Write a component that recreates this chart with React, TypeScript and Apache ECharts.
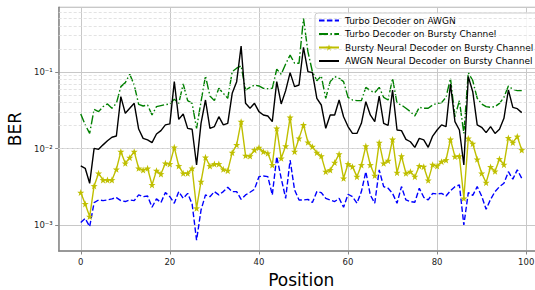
import React, { useEffect, useRef } from "react";
import * as echarts from "echarts";

const positions: number[] = [
  0, 1, 2, 3, 4, 5, 6, 7, 8, 9, 10, 11, 12, 13, 14, 15, 16, 17, 18, 19,
  20, 21, 22, 23, 24, 25, 26, 27, 28, 29, 30, 31, 32, 33, 34, 35, 36, 37, 38, 39,
  40, 41, 42, 43, 44, 45, 46, 47, 48, 49, 50, 51, 52, 53, 54, 55, 56, 57, 58, 59,
  60, 61, 62, 63, 64, 65, 66, 67, 68, 69, 70, 71, 72, 73, 74, 75, 76, 77, 78, 79,
  80, 81, 82, 83, 84, 85, 86, 87, 88, 89, 90, 91, 92, 93, 94, 95, 96, 97, 98, 99,
];

const turboAwgn: number[] = [
  1.09e-3, 1.23e-3, 9.6e-4, 1.98e-3, 2.14e-3, 2.1e-3, 2.14e-3, 2.21e-3, 2.3e-3, 2.1e-3,
  2.04e-3, 2.14e-3, 2.1e-3, 2.49e-3, 2.36e-3, 2.41e-3, 1.72e-3, 2.21e-3, 1.98e-3, 2.67e-3,
  2.36e-3, 1.94e-3, 2.75e-3, 2.25e-3, 2.61e-3, 1.9e-3, 6.4e-4, 1.58e-3, 2.49e-3, 2.36e-3,
  2.75e-3, 2.49e-3, 2.75e-3, 3.13e-3, 2.75e-3, 2.75e-3, 2.18e-3, 2.49e-3, 2.7e-3, 2.95e-3,
  4.31e-3, 4.4e-3, 4.31e-3, 2.49e-3, 7.87e-3, 4.1e-3, 2.25e-3, 7.11e-3, 2.89e-3, 2.14e-3,
  2.14e-3, 2.18e-3, 1.98e-3, 2.75e-3, 2.67e-3, 2.25e-3, 2.14e-3, 2.04e-3, 2.25e-3, 1.72e-3,
  2.54e-3, 2.36e-3, 1.94e-3, 2.75e-3, 5.0e-3, 2.49e-3, 1.94e-3, 5.27e-3, 3.19e-3, 3.04e-3,
  2.61e-3, 1.94e-3, 3.2e-3, 2.14e-3, 2.04e-3, 2.0e-3, 3.04e-3, 2.32e-3, 2.14e-3, 2.61e-3,
  2.56e-3, 2.61e-3, 2.41e-3, 2.83e-3, 3.19e-3, 3.36e-3, 1.01e-3, 2.67e-3, 2.46e-3, 3.19e-3,
  2.41e-3, 1.62e-3, 2.18e-3, 2.75e-3, 3.19e-3, 3.53e-3, 5.0e-3, 4.0e-3, 5.3e-3, 4.1e-3,
];

const turboBursty: number[] = [
  0.0283, 0.0204, 0.0158, 0.0326, 0.0304, 0.0353, 0.0383, 0.0336, 0.039, 0.0644,
  0.0726, 0.0933, 0.0676, 0.0379, 0.036, 0.0371, 0.0275, 0.0353, 0.0364, 0.0375,
  0.0383, 0.044, 0.039, 0.0697, 0.0423, 0.039, 0.0184, 0.041, 0.0887, 0.0486,
  0.0423, 0.0612, 0.0527, 0.0454, 0.101, 0.112, 0.12, 0.0582, 0.063, 0.0676,
  0.0657, 0.0612, 0.0605, 0.0612, 0.109, 0.0933, 0.127, 0.166, 0.13, 0.13,
  0.5, 0.184, 0.101, 0.077, 0.0887, 0.0454, 0.0748, 0.087, 0.0827, 0.0748,
  0.0467, 0.0431, 0.0423, 0.0423, 0.063, 0.0571, 0.0537, 0.063, 0.0467, 0.0431,
  0.0827, 0.039, 0.0371, 0.0336, 0.0304, 0.0267, 0.0346, 0.0336, 0.0336, 0.0371,
  0.039, 0.0398, 0.0467, 0.0827, 0.0261, 0.0423, 0.0158, 0.098, 0.077, 0.0454,
  0.0383, 0.0353, 0.0346, 0.0353, 0.039, 0.0467, 0.0657, 0.0594, 0.0571, 0.0571,
];

const burstyNeural: number[] = [
  2.67e-3, 1.9e-3, 1.3e-3, 3.26e-3, 4.77e-3, 3.9e-3, 3.9e-3, 3.9e-3, 5.37e-3, 9.14e-3,
  6.44e-3, 7.63e-3, 9.14e-3, 5.54e-3, 5.27e-3, 5.54e-3, 3.36e-3, 5.16e-3, 4.67e-3, 6.44e-3,
  6.31e-3, 0.0104, 5.94e-3, 4.77e-3, 4.77e-3, 5.54e-3, 1.67e-3, 3.71e-3, 7.71e-3, 5.94e-3,
  6.31e-3, 6.31e-3, 5.37e-3, 5.16e-3, 8.87e-3, 0.0112, 0.0225, 8.1e-3, 8.0e-3, 9.6e-3,
  0.0103, 9.14e-3, 8.7e-3, 6.12e-3, 0.0184, 7.48e-3, 0.0108, 0.0256, 9.14e-3, 0.0136,
  0.0204, 0.0121, 0.0106, 8.87e-3, 8.0e-3, 5.01e-3, 5.27e-3, 6.57e-3, 8.5e-3, 4.1e-3,
  6.31e-3, 5.82e-3, 4.31e-3, 6.12e-3, 0.0108, 6.12e-3, 4.45e-3, 0.012, 6.44e-3, 6.97e-3,
  0.0132, 4.86e-3, 8.0e-3, 4.77e-3, 5.01e-3, 4.31e-3, 5.94e-3, 5.82e-3, 3.86e-3, 6.18e-3,
  5.94e-3, 6.77e-3, 7.11e-3, 0.0132, 7.87e-3, 8.0e-3, 2.25e-3, 0.0136, 0.0116, 7.26e-3,
  4.77e-3, 3.6e-3, 5.77e-3, 5.06e-3, 7.33e-3, 6.18e-3, 0.0138, 0.012, 0.0144, 9.6e-3,
];

const awgnNeural: number[] = [
  5.94e-3, 5.54e-3, 3.53e-3, 0.0101, 9.8e-3, 0.0112, 0.0127, 0.0141, 0.0146, 0.0477,
  0.0289, 0.0336, 0.039, 0.018, 0.0136, 0.013, 0.012, 0.0155, 0.0172, 0.0204,
  0.021, 0.0748, 0.0241, 0.0283, 0.0184, 0.0179, 6.12e-3, 0.0214, 0.0431, 0.0184,
  0.0194, 0.0261, 0.0204, 0.0214, 0.0527, 0.0748, 0.218, 0.039, 0.0336, 0.039,
  0.0304, 0.0275, 0.0267, 0.0225, 0.0748, 0.0383, 0.0571, 0.098, 0.0644, 0.0676,
  0.21, 0.101, 0.098, 0.0454, 0.0371, 0.0184, 0.0275, 0.0275, 0.0431, 0.0261,
  0.0194, 0.0158, 0.0158, 0.0214, 0.041, 0.0275, 0.0225, 0.0486, 0.0214, 0.0201,
  0.0582, 0.0175, 0.0172, 0.0132, 0.0123, 0.0104, 0.0136, 0.013, 0.0104, 0.0146,
  0.0175, 0.0204, 0.0194, 0.0697, 0.0225, 0.0175, 6.12e-3, 0.0869, 0.0553, 0.0204,
  0.019, 0.0162, 0.0194, 0.0158, 0.0179, 0.0249, 0.0582, 0.0346, 0.0332, 0.0295,
];

const seriesNames: string[] = [
  "Turbo Decoder on AWGN",
  "Turbo Decoder on Bursty Channel",
  "Bursty Neural Decoder on Bursty Channel",
  "AWGN Neural Decoder on Bursty Channel",
];

const xTickLabels: number[] = [0, 20, 40, 60, 80, 100];

const minorGridLevels: number[] = [
  5e-4, 6e-4, 7e-4, 8e-4, 9e-4,
  2e-3, 3e-3, 4e-3, 5e-3, 6e-3, 7e-3, 8e-3, 9e-3,
  2e-2, 3e-2, 4e-2, 5e-2, 6e-2, 7e-2, 8e-2, 9e-2,
  0.2, 0.3, 0.4, 0.5, 0.6,
];

const SUP: Record<string, string> = {
  "-": "\u207B", "0": "\u2070", "1": "\u00B9", "2": "\u00B2", "3": "\u00B3",
  "4": "\u2074", "5": "\u2075", "6": "\u2076", "7": "\u2077", "8": "\u2078", "9": "\u2079",
};

const STAR =
  "path://M0,-10 L2.35,-3.24 L9.51,-3.09 L3.8,1.24 L5.88,8.09 L0,4 L-5.88,8.09 L-3.8,1.24 L-9.51,-3.09 L-2.35,-3.24 Z";

const FONT = "DejaVu Sans";

export default function App() {
  const ref = useRef<HTMLDivElement>(null);

  useEffect(() => {
    if (!ref.current) return;
    const chart = echarts.init(ref.current, undefined, { renderer: "svg" });
    const pairs = (arr: number[]) => arr.map((v, i) => [positions[i], v]);

    const option: any = {
      animation: false,
      backgroundColor: "#ffffff",
      textStyle: { fontFamily: FONT },
      grid: {
        left: 58.7,
        right: -8.8,
        top: 7.3,
        bottom: 39,
        show: true,
        borderColor: "#9a9a9a",
        borderWidth: 1,
        containLabel: false,
        outerBoundsMode: "none",
      },
      legend: {
        data: [
          { name: seriesNames[0], itemStyle: { opacity: 0 } },
          { name: seriesNames[1], itemStyle: { opacity: 0 } },
          { name: seriesNames[2] },
          { name: seriesNames[3], itemStyle: { opacity: 0 } },
        ],
        orient: "vertical",
        left: 315,
        top: 13,
        itemWidth: 20,
        itemHeight: 8,
        itemGap: 4.5,
        padding: [3, 6, 3, 3],
        backgroundColor: "rgba(255,255,255,0.85)",
        borderColor: "#cccccc",
        borderWidth: 1,
        borderRadius: 3,
        textStyle: { fontSize: 9, color: "#000", fontFamily: FONT, padding: [0, 0, 0, 1] },
      },
      xAxis: {
        type: "value",
        min: -4.95,
        max: 103.95,
        splitNumber: 5,
        name: "Position",
        nameLocation: "middle",
        nameGap: 20,
        nameTextStyle: { fontSize: 17, color: "#000", fontFamily: FONT },
        axisLine: { show: true, onZero: false, lineStyle: { color: "#888", width: 1.5 } },
        axisTick: { show: true, length: 3.5, lineStyle: { color: "#888" } },
        axisLabel: {
          fontSize: 8.5,
          color: "#222",
          margin: 6,
          fontFamily: FONT,
          showMinLabel: false,
          showMaxLabel: false,
          formatter: (v: number) => (xTickLabels.indexOf(v) >= 0 ? String(v) : ""),
        },
        splitLine: { show: true, lineStyle: { color: "#c8c8c8", width: 1 } },
      },
      yAxis: {
        type: "log",
        logBase: 10,
        min: 4.62e-4,
        max: 0.698,
        name: "BER",
        nameLocation: "middle",
        nameGap: 31,
        nameTextStyle: { fontSize: 17, color: "#000", fontFamily: FONT },
        axisLine: { show: true, onZero: false, lineStyle: { color: "#888", width: 1.5 } },
        axisTick: { show: true, length: 3.5, lineStyle: { color: "#888" } },
        axisLabel: {
          fontSize: 8.5,
          color: "#222",
          margin: 6,
          fontFamily: FONT,
          showMinLabel: false,
          showMaxLabel: false,
          formatter: (v: number) => {
            const e = Math.log10(v);
            const r = Math.round(e);
            if (Math.abs(e - r) > 1e-6) return "";
            const s = String(r).split("").map((c) => SUP[c] || c).join("");
            return "10" + s;
          },
        },
        splitLine: { show: true, lineStyle: { color: "#c8c8c8", width: 1 } },
      },
      series: [
        {
          name: "minor-grid",
          type: "line",
          data: [],
          silent: true,
          z: 1,
          markLine: {
            silent: true,
            symbol: "none",
            animation: false,
            label: { show: false },
            lineStyle: { color: "#dcdcdc", type: [3, 2], width: 0.8 },
            emphasis: { disabled: true },
            data: minorGridLevels.map((v) => ({ yAxis: v })),
          },
        },
        {
          name: seriesNames[0],
          type: "line",
          data: pairs(turboAwgn),
          symbol: "none",
          showSymbol: false,
          z: 3,
          lineStyle: { color: "#0000ff", width: 1.4, type: [5.5, 2.4] },
          itemStyle: { color: "#0000ff" },
        },
        {
          name: seriesNames[1],
          type: "line",
          data: pairs(turboBursty),
          symbol: "none",
          showSymbol: false,
          z: 4,
          lineStyle: { color: "#008000", width: 1.4, type: [9, 2.4, 1.5, 2.4] },
          itemStyle: { color: "#008000" },
        },
        {
          name: seriesNames[2],
          type: "line",
          data: pairs(burstyNeural),
          symbol: STAR,
          symbolSize: 7,
          showSymbol: true,
          z: 5,
          lineStyle: { color: "#bfbf00", width: 1.4 },
          itemStyle: { color: "#bfbf00", borderWidth: 0 },
        },
        {
          name: seriesNames[3],
          type: "line",
          data: pairs(awgnNeural),
          symbol: "none",
          showSymbol: false,
          z: 6,
          lineStyle: { color: "#000000", width: 1.4 },
          itemStyle: { color: "#000000" },
        },
      ],
    };

    chart.setOption(option);
    return () => chart.dispose();
  }, []);

  return (
    <div
      ref={ref}
      style={{ position: "absolute", left: 0, top: 0, width: 535, height: 290 }}
    />
  );
}
